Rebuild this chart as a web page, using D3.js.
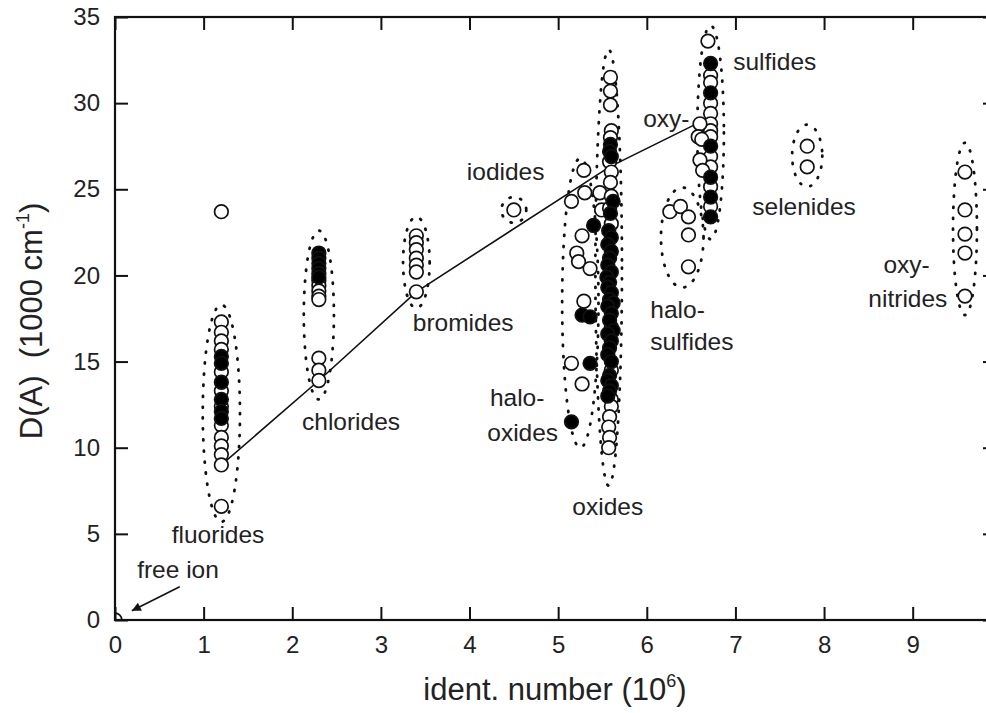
<!DOCTYPE html>
<html>
<head>
<meta charset="utf-8">
<script src="https://cdn.jsdelivr.net/npm/d3@7"></script>
<style>
    body { margin: 0; background: #fff; }
    svg text { font-family: "Liberation Sans", Arial, sans-serif; fill: #222; }
</style>
</head>
<body>
<div id="chart"></div>
<script>
// x position of each family column (ident. number, 10^6)
var fluorideX = 1.2, chlorideX = 2.3, bromideX = 3.4, iodideX = 4.5;
var sulfideX = 6.72, selenideX = 7.81, nitrideX = 9.59;

// D(A) values, 1000 cm-1, open = open symbols, filled = black symbols
var fluorideOpen = [17.3, 16.7, 16.2, 15.7, 14.4, 13.3, 12.4, 11.3, 10.6, 10.1, 9.6, 9.0, 6.6, 23.7];
var fluorideFilled = [15.3, 14.9, 13.8, 12.8, 12.1, 11.7];
var chlorideOpen = [19.7, 19.4, 19.1, 18.8, 18.6, 15.2, 14.5, 13.9];
var chlorideFilled = [21.3, 21.0, 20.7, 20.4, 20.1, 19.9];
var bromideOpen = [22.3, 21.9, 21.5, 21.0, 20.6, 20.2, 19.05];
var iodideOpen = [23.8];
var sulfideOpen = [31.6, 31.2, 30.0, 29.4, 28.8, 28.4, 28.05, 26.9, 26.3, 25.15, 24.0];
var sulfideFilled = [32.3, 30.6, 27.5, 25.7, 24.55, 23.4];
var selenideOpen = [27.5, 26.3];
var nitrideOpen = [26.0, 23.8, 22.4, 21.3, 18.8];

// scattered families as [x, D(A)] pairs
var sulfideSideOpen = [[6.69, 33.6], [6.6, 28.8], [6.58, 28.05], [6.6, 26.7], [6.63, 26.1], [6.62, 27.9]];
var haloSulfideOpen = [[6.26, 23.7], [6.38, 24.0], [6.47, 23.4], [6.47, 22.35], [6.47, 20.5]];
var haloOxideOpen = [[5.29, 26.1], [5.3, 24.8], [5.15, 24.3], [5.47, 24.8], [5.49, 23.8], [5.27, 22.3],
    [5.21, 21.3], [5.23, 20.8], [5.36, 20.4], [5.29, 18.5], [5.15, 14.9], [5.27, 13.7]];
var haloOxideFilled = [[5.4, 22.9], [5.27, 17.7], [5.36, 17.6], [5.36, 14.9], [5.15, 11.5]];
var oxideOpen = [[5.59, 31.5], [5.59, 30.7], [5.59, 29.9], [5.6, 28.4], [5.59, 28.0], [5.58, 26.6],
    [5.6, 26.0], [5.59, 25.4], [5.6, 24.6], [5.58, 23.9], [5.6, 23.0], [5.6, 17.0], [5.6, 14.5],
    [5.6, 12.8], [5.6, 12.4], [5.58, 11.8], [5.57, 11.2], [5.58, 10.6], [5.57, 10.0]];
var oxideFilled = [[5.59, 27.6], [5.58, 27.2], [5.6, 26.9], [5.62, 24.3], [5.59, 23.6], [5.57, 22.6],
    [5.6, 22.2], [5.56, 21.8], [5.6, 21.4], [5.58, 21.0], [5.56, 20.6], [5.6, 20.2], [5.55, 19.9],
    [5.58, 19.6], [5.56, 19.3], [5.6, 19.0], [5.58, 18.6], [5.62, 18.4], [5.56, 18.2], [5.6, 17.8],
    [5.58, 17.4], [5.62, 16.8], [5.56, 16.6], [5.6, 16.2], [5.58, 15.8], [5.56, 15.4], [5.6, 15.0],
    [5.58, 14.2], [5.56, 13.9], [5.6, 13.6], [5.58, 13.3], [5.56, 13.0]];

// trend line through the families
var trendX = [1.2, 2.3, 3.4, 5.58, 6.68];
var trendY = [9.0, 13.9, 19.05, 26.3, 29.1];

// tick labels
var xTicks = [0, 1, 2, 3, 4, 5, 6, 7, 8, 9];
var yTicks = [0, 5, 10, 15, 20, 25, 30, 35];

// dotted family outlines: centre and half sizes in data units
var outlineNames = ["fluorides", "chlorides", "bromides", "iodides", "halo-oxides", "oxides", "halo-sulfides", "sulfides", "selenides", "oxy-nitrides"];
var outlineCx = [1.2, 2.3, 3.4, 4.5, 5.25, 5.57, 6.4, 6.72, 7.81, 9.59];
var outlineCy = [12.0, 17.7, 20.75, 23.8, 18.4, 20.45, 22.2, 28.3, 26.95, 22.7];
var outlineRx = [0.21, 0.17, 0.15, 0.14, 0.205, 0.15, 0.24, 0.15, 0.17, 0.135];
var outlineRy = [6.3, 4.9, 2.65, 0.75, 8.4, 12.65, 2.9, 6.2, 1.8, 5.0];

// annotations (text, x, y in data units, left aligned)
var notes = [
    ["fluorides", 0.64, 4.47], ["free ion", 0.25, 2.44], ["chlorides", 2.11, 11.0],
    ["bromides", 3.36, 16.77], ["iodides", 3.97, 25.54], ["halo-", 4.23, 12.42],
    ["oxides", 4.2, 10.39], ["oxides", 5.16, 6.09], ["halo-", 6.04, 17.53],
    ["sulfides", 6.04, 15.67], ["sulfides", 6.975, 31.92], ["oxy-", 5.96, 28.61],
    ["selenides", 7.19, 23.51], ["oxy-", 8.67, 20.14], ["nitrides", 8.5, 18.17]
];

var W = 986, H = 713;
var svg = d3.select("#chart").append("svg")
    .attr("width", W)
    .attr("height", H);

var x = d3.scaleLinear().domain([0, 9.94]).range([115, 996]);
var y = d3.scaleLinear().domain([0, 35]).range([620, 17]);

svg.append("defs").append("clipPath").attr("id", "plot-clip")
    .append("rect")
    .attr("x", x(0)).attr("y", y(35))
    .attr("width", x(9.94) - x(0)).attr("height", y(0) - y(35));

var marker = svg.select("defs").append("marker")
    .attr("id", "arrow")
    .attr("viewBox", "0 0 10 10")
    .attr("refX", 10).attr("refY", 5)
    .attr("markerWidth", 17).attr("markerHeight", 9)
    .attr("markerUnits", "userSpaceOnUse")
    .attr("orient", "auto");
marker.append("path").attr("d", "M0,0 L10,5 L0,10 Z").attr("fill", "#111");

// collect the symbols
var points = [];
function addColumn(xv, vals, filled) {
    vals.forEach(function (v) { points.push({ x: xv, y: v, filled: filled }); });
}
function addPairs(pairs, filled) {
    pairs.forEach(function (p) { points.push({ x: p[0], y: p[1], filled: filled }); });
}
addColumn(fluorideX, fluorideOpen, false);
addColumn(chlorideX, chlorideOpen, false);
addColumn(bromideX, bromideOpen, false);
addColumn(iodideX, iodideOpen, false);
addColumn(sulfideX, sulfideOpen, false);
addColumn(selenideX, selenideOpen, false);
addColumn(nitrideX, nitrideOpen, false);
addPairs(sulfideSideOpen, false);
addPairs(haloSulfideOpen, false);
addPairs(haloOxideOpen, false);
addPairs(oxideOpen, false);
addColumn(fluorideX, fluorideFilled, true);
addColumn(chlorideX, chlorideFilled, true);
addColumn(sulfideX, sulfideFilled, true);
addPairs(haloOxideFilled, true);
addPairs(oxideFilled, true);

// dotted outlines
svg.append("g").selectAll("ellipse")
    .data(outlineNames)
    .enter().append("ellipse")
    .attr("cx", function (d, i) { return x(outlineCx[i]); })
    .attr("cy", function (d, i) { return y(outlineCy[i]); })
    .attr("rx", function (d, i) { return x(outlineRx[i]) - x(0); })
    .attr("ry", function (d, i) { return y(0) - y(outlineRy[i]); })
    .attr("fill", "none")
    .attr("stroke", "#111")
    .attr("stroke-width", 2.8)
    .attr("stroke-linecap", "round")
    .attr("stroke-dasharray", "1 10");

// trend line
var line = d3.line()
    .x(function (d, i) { return x(d); })
    .y(function (d, i) { return y(trendY[i]); });
svg.append("path")
    .datum(trendX)
    .attr("d", line)
    .attr("fill", "none")
    .attr("stroke", "#111")
    .attr("stroke-width", 1.6);

// symbols
svg.append("g").selectAll("circle")
    .data(points)
    .enter().append("circle")
    .attr("cx", function (d) { return x(d.x); })
    .attr("cy", function (d) { return y(d.y); })
    .attr("r", 6.8)
    .attr("fill", function (d) { return d.filled ? "#000" : "#fff"; })
    .attr("stroke", "#111")
    .attr("stroke-width", 1.7);

// free ion at the origin
svg.append("circle")
    .attr("clip-path", "url(#plot-clip)")
    .attr("cx", x(0)).attr("cy", y(0)).attr("r", 6.8)
    .attr("fill", "#fff").attr("stroke", "#111").attr("stroke-width", 1.7);

svg.append("line")
    .attr("x1", x(0.73)).attr("y1", y(1.93))
    .attr("x2", x(0.19)).attr("y2", y(0.54))
    .attr("stroke", "#111").attr("stroke-width", 1.6)
    .attr("marker-end", "url(#arrow)");

// axes, ticks point inwards on all four sides
svg.append("g")
    .attr("transform", "translate(0," + y(0) + ")")
    .call(d3.axisBottom(x).tickValues(xTicks).tickSize(-13).tickSizeOuter(0).tickPadding(16));
svg.append("g")
    .attr("transform", "translate(" + x(0) + ",0)")
    .call(d3.axisLeft(y).tickValues(yTicks).tickSize(-13).tickSizeOuter(0).tickPadding(15));
svg.append("g")
    .attr("transform", "translate(0," + y(35) + ")")
    .call(d3.axisTop(x).tickValues(xTicks).tickSize(-13).tickSizeOuter(0).tickFormat(""));
svg.append("g")
    .attr("transform", "translate(" + x(9.94) + ",0)")
    .call(d3.axisRight(y).tickValues(yTicks).tickSize(-13).tickSizeOuter(0).tickFormat(""));

svg.selectAll(".domain").remove();
svg.selectAll(".tick line").attr("stroke", "#111").attr("stroke-width", 2);
svg.selectAll(".tick text")
    .attr("font-family", "Liberation Sans, Arial, sans-serif")
    .attr("font-size", 24)
    .attr("fill", "#222");

svg.append("rect")
    .attr("x", x(0)).attr("y", y(35))
    .attr("width", x(9.94) - x(0)).attr("height", y(0) - y(35))
    .attr("fill", "none")
    .attr("stroke", "#111")
    .attr("stroke-width", 2.2);

// annotations
svg.append("g").selectAll("text")
    .data(notes)
    .enter().append("text")
    .attr("x", function (d) { return x(d[1]); })
    .attr("y", function (d) { return y(d[2]); })
    .attr("font-size", 24.5)
    .text(function (d) { return d[0]; });

// axis titles
var xt = svg.append("text")
    .attr("x", 555)
    .attr("y", 700)
    .attr("text-anchor", "middle")
    .attr("font-size", 31);
xt.append("tspan").text("ident. number (10");
xt.append("tspan").attr("font-size", 18).attr("dy", -13).text("6");
xt.append("tspan").attr("dy", 13).text(")");

var yt = svg.append("text")
    .attr("transform", "translate(42," + 321 + ") rotate(-90)")
    .attr("text-anchor", "middle")
    .attr("font-size", 31);
yt.append("tspan").text("D(A)\u00a0\u00a0(1000 cm");
yt.append("tspan").attr("font-size", 18).attr("dy", -13).text("-1");
yt.append("tspan").attr("dy", 13).text(")");
</script>
</body>
</html>
